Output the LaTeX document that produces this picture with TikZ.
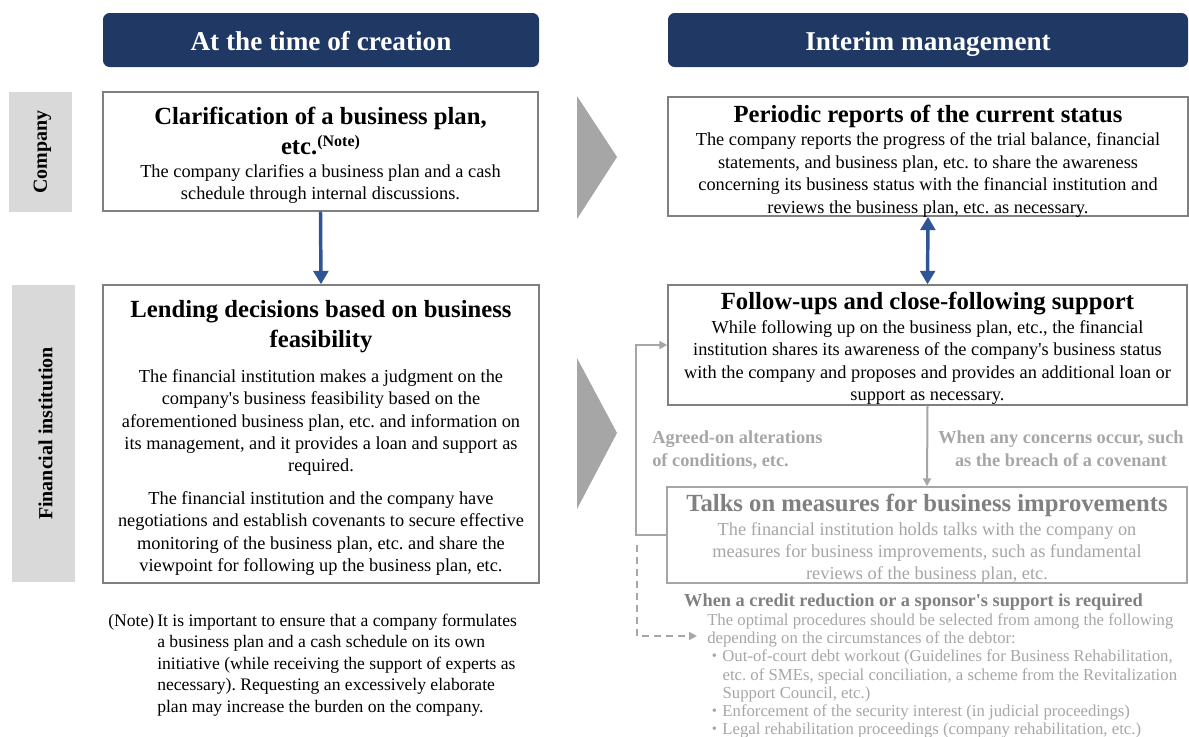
\documentclass[tikz,border=0pt]{standalone}
\usepackage{fontspec}
\setmainfont{Liberation Serif}
\usetikzlibrary{arrows.meta,fit}
\frenchspacing

\definecolor{navy}{HTML}{203864}
\definecolor{arrowblue}{HTML}{2F5597}
\definecolor{panelgray}{HTML}{D9D9D9}
\definecolor{chevgray}{HTML}{A6A6A6}
\definecolor{framegray}{HTML}{808080}
\definecolor{softgray}{HTML}{A6A6A6}
\definecolor{midgray}{HTML}{808080}

\newcommand{\bodysize}{\fontsize{13.75}{16.8}\selectfont}
\newcommand{\titlesize}{\fontsize{18.5}{22.5}\selectfont\bfseries}
\newcommand{\apos}{\textquotesingle}
\newcommand{\listdot}{\hspace*{3.5pt}{\fontsize{11}{11}\selectfont\raisebox{0.15ex}{•}}\hspace*{4pt}}

\begin{document}
\begin{tikzpicture}[x=0.75pt,y=-0.75pt,
  header/.style={fill=navy, rounded corners=5pt, inner sep=0pt},
  headtext/.style={text=white, font=\fontsize{20.4}{24}\selectfont\bfseries, inner sep=0pt, anchor=base},
  sidepanel/.style={fill=panelgray, inner sep=0pt},
  sidetext/.style={rotate=90, font=\fontsize{15}{18}\selectfont\bfseries, inner sep=0pt},
  frame/.style={draw=framegray, line width=1.1pt, fill=white, inner sep=0pt},
  softframe/.style={draw=softgray, line width=1.1pt, fill=white, inner sep=0pt},
  boxtitle/.style={align=center, font=\titlesize, inner sep=0pt},
  boxbody/.style={align=center, font=\bodysize, inner sep=0pt},
  bluelink/.style={draw=arrowblue, line width=2.6pt, -{Triangle[length=10pt,width=11pt]}},
  bluetwin/.style={draw=arrowblue, line width=2.6pt, {Triangle[length=10pt,width=11pt]}-{Triangle[length=10pt,width=11pt]}},
  graylink/.style={draw=softgray, line width=1.5pt, -{Triangle[length=6pt,width=6pt]}},
  graydash/.style={draw=softgray, line width=1.3pt, dash pattern=on 5pt off 4pt, -{Triangle[length=6pt,width=6pt]}},
  chevron/.style={fill=chevgray},
  graylabel/.style={text=softgray, font=\fontsize{13.75}{17.25}\selectfont\bfseries, inner sep=0pt}
]
\useasboundingbox (0,0) rectangle (1189,736);

% column headers
\node[header, fit={(103,13) (539,67)}] (hleft) {};
\node[headtext] (hlefttext) at (321,50) {At the time of creation};
\node[header, fit={(668,13) (1188,67)}] (hright) {};
\node[headtext] (hrighttext) at (928,50) {Interim management};

% row labels
\node[sidepanel, fit={(9,92) (72,212)}] (rowcompany) {};
\node[sidetext] (rowcompanytext) at ([xshift=1.5pt]rowcompany.center) {Company};
\node[sidepanel, fit={(12,285) (75,582)}] (rowbank) {};
\node[sidetext] (rowbanktext) at ([xshift=1.5pt]rowbank.center) {Financial institution};

% progression chevrons
\fill[chevron] (577,96) -- (617,157) -- (577,219) -- cycle;
\fill[chevron] (577,358) -- (617,433) -- (577,509) -- cycle;

% creation stage
\node[frame, fit={(103,92) (538,211)}] (clar) {};
\node[boxtitle] (clartitle) at (320.5,131) {Clarification of a business plan,\\
  etc.\raisebox{0.7ex}{\fontsize{12}{12}\selectfont (Note)}};
\node[boxbody] (clarbody) at (320.5,184) {The company clarifies a business plan and a cash\\
  schedule through internal discussions.};

\node[frame, fit={(103,285) (539,583)}] (lend) {};
\node[boxtitle] (lendtitle) at (321,327) {Lending decisions based on business\\ feasibility};
\node[boxbody] (lendbody1) at (321,422.5) {The financial institution makes a judgment on the\\
  company\apos s business feasibility based on the\\
  aforementioned business plan, etc. and information on\\
  its management, and it provides a loan and support as\\
  required.};
\node[boxbody] (lendbody2) at (321,533.5) {The financial institution and the company have\\
  negotiations and establish covenants to secure effective\\
  monitoring of the business plan, etc. and share the\\
  viewpoint for following up the business plan, etc.};

\draw[bluelink] (clar.south) -- (lend.north);

% footnote
\node[font=\fontsize{13.2}{16.1}\selectfont, anchor=west, inner sep=0pt] (notemark) at (108,622) {(Note)};
\node[font=\fontsize{13.2}{16.1}\selectfont, align=left, anchor=west, inner sep=0pt] (notetext) at (157,665)
  {It is important to ensure that a company formulates\\
   a business plan and a cash schedule on its own\\
   initiative (while receiving the support of experts as\\
   necessary). Requesting an excessively elaborate\\
   plan may increase the burden on the company.};

% interim stage
\node[frame, fit={(668,97) (1188,216)}] (report) {};
\node[boxtitle] (reporttitle) at (928,116) {Periodic reports of the current status};
\node[boxbody] (reportbody) at (928,175) {The company reports the progress of the trial balance, financial\\
  statements, and business plan, etc. to share the awareness\\
  concerning its business status with the financial institution and\\
  reviews the business plan, etc. as necessary.};

\node[frame, fit={(668,285) (1187,405)}] (follow) {};
\node[boxtitle] (followtitle) at (927.5,303.5) {Follow-ups and close-following support};
\node[boxbody] (followbody) at (927.5,362.5) {While following up on the business plan, etc., the financial\\
  institution shares its awareness of the company\apos s business status\\
  with the company and proposes and provides an additional loan or\\
  support as necessary.};

\node[softframe, fit={(667,487) (1187,583)}] (talks) {};
\node[boxtitle, text=midgray] (talkstitle) at (927,505) {Talks on measures for business improvements};
\node[boxbody, text=softgray] (talksbody) at (927,553) {The financial institution holds talks with the company on\\
  measures for business improvements, such as fundamental\\
  reviews of the business plan, etc.};

\draw[bluetwin] (report.south) -- (follow.north);
\draw[graylink] (follow.south) -- (talks.north);
\draw[graylink] (talks.west) -- ++(-30,0) |- (follow.west);

\node[graylabel, align=left, anchor=west] (agreed) at (652,450.5) {Agreed-on alterations\\ of conditions, etc.};
\node[graylabel, align=center] (concern) at (1061,448.5) {When any concerns occur, such\\ as the breach of a covenant};

% escalation path
\coordinate (dashstart) at (637,545);
\coordinate (dashend) at (697,636);
\draw[graydash] (dashstart) |- (dashend);

\node[text=midgray, font=\fontsize{13.75}{16}\selectfont\bfseries, inner sep=0pt] (credit) at (913.5,602)
  {When a credit reduction or a sponsor\apos s support is required};
\node[text=softgray, font=\fontsize{12.55}{13.6}\selectfont, align=left, anchor=west, inner sep=0pt] (options) at (707,676)
  {The optimal procedures should be selected from among the following\\
   depending on the circumstances of the debtor:\\
   \listdot Out-of-court debt workout (Guidelines for Business Rehabilitation,\\
   \hspace*{11.5pt}etc. of SMEs, special conciliation, a scheme from the Revitalization\\
   \hspace*{11.5pt}Support Council, etc.)\\
   \listdot Enforcement of the security interest (in judicial proceedings)\\
   \listdot Legal rehabilitation proceedings (company rehabilitation, etc.)};
\end{tikzpicture}
\end{document}
